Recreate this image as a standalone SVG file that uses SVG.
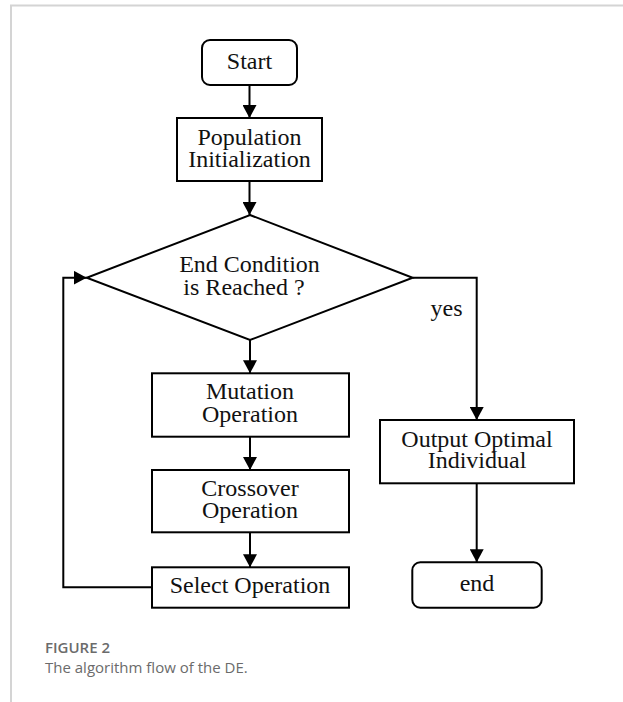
<svg xmlns="http://www.w3.org/2000/svg" width="623" height="702" viewBox="0 0 623 702">
<style>
.box{fill:#fff;stroke:#000;stroke-width:2}
.t{font-family:"Liberation Serif","Times New Roman",serif;font-size:24px;fill:#111;text-anchor:middle}
.c{fill:none;stroke:#000;stroke-width:2}
.frame{fill:none;stroke:#d4d4d4;stroke-width:2}
.cap1{font-family:"Open Sans","Noto Sans",sans-serif;font-size:15px;font-weight:600;fill:#6b6b6b}
.cap2{font-family:"Open Sans","Noto Sans",sans-serif;font-size:15px;fill:#6b6b6b}
</style>
<defs>
<marker id="ah" markerWidth="14" markerHeight="14" refX="13" refY="7" orient="auto" markerUnits="userSpaceOnUse">
<path d="M0,0 L13,7 L0,14 Z" fill="#000"/>
</marker>
</defs>
<rect width="623" height="702" fill="#fff"/>
<path class="frame" d="M11,702 V5.5 H623"/>
<g id="start">
<rect class="box" x="202" y="40" width="95" height="45" rx="8"/>
<text class="t" x="249.5" y="69">Start</text>
</g>
<g id="init">
<rect class="box" x="177" y="118" width="145" height="63"/>
<text class="t" x="249.5" y="145">Population</text>
<text class="t" x="249.5" y="167">Initialization</text>
</g>
<g id="cond">
<path class="box" d="M250,215 L412.7,277.7 L250,340 L86.7,277.7 Z"/>
<text class="t" x="249.5" y="272">End Condition</text>
<text class="t" x="244" y="295">is Reached ?</text>
</g>
<g id="mutation">
<rect class="box" x="152" y="373.3" width="197" height="63.4"/>
<text class="t" x="250" y="399.3">Mutation</text>
<text class="t" x="250" y="421.7">Operation</text>
</g>
<g id="crossover">
<rect class="box" x="152" y="470" width="197" height="62.3"/>
<text class="t" x="250" y="495.7">Crossover</text>
<text class="t" x="250" y="518.3">Operation</text>
</g>
<g id="select">
<rect class="box" x="152" y="567.3" width="197" height="40.4"/>
<text class="t" x="250" y="593.3">Select Operation</text>
</g>
<g id="output">
<rect class="box" x="380" y="420" width="194" height="63.3"/>
<text class="t" x="477" y="446.7">Output Optimal</text>
<text class="t" x="477" y="468.3">Individual</text>
</g>
<g id="end">
<rect class="box" x="412.3" y="562.3" width="129.4" height="45.4" rx="8"/>
<text class="t" x="477" y="590.7">end</text>
</g>
<g id="connectors">
<path class="c" d="M249.5,85 V118" marker-end="url(#ah)"/>
<path class="c" d="M249.5,181 V215" marker-end="url(#ah)"/>
<path class="c" d="M250,340 V373.3" marker-end="url(#ah)"/>
<path class="c" d="M250,436.7 V470" marker-end="url(#ah)"/>
<path class="c" d="M250,532.3 V567.3" marker-end="url(#ah)"/>
<path class="c" d="M152,587.3 H63.3 V277.7 H86.7" marker-end="url(#ah)"/>
<path class="c" d="M412.7,277.7 H476.7 V420" marker-end="url(#ah)"/>
<path class="c" d="M476.7,483.3 V562.3" marker-end="url(#ah)"/>
<text class="t" x="446.5" y="315.7">yes</text>
</g>
<text class="cap1" x="45" y="653">FIGURE 2</text>
<text class="cap2" x="45" y="673.3">The algorithm flow of the DE.</text>
</svg>
